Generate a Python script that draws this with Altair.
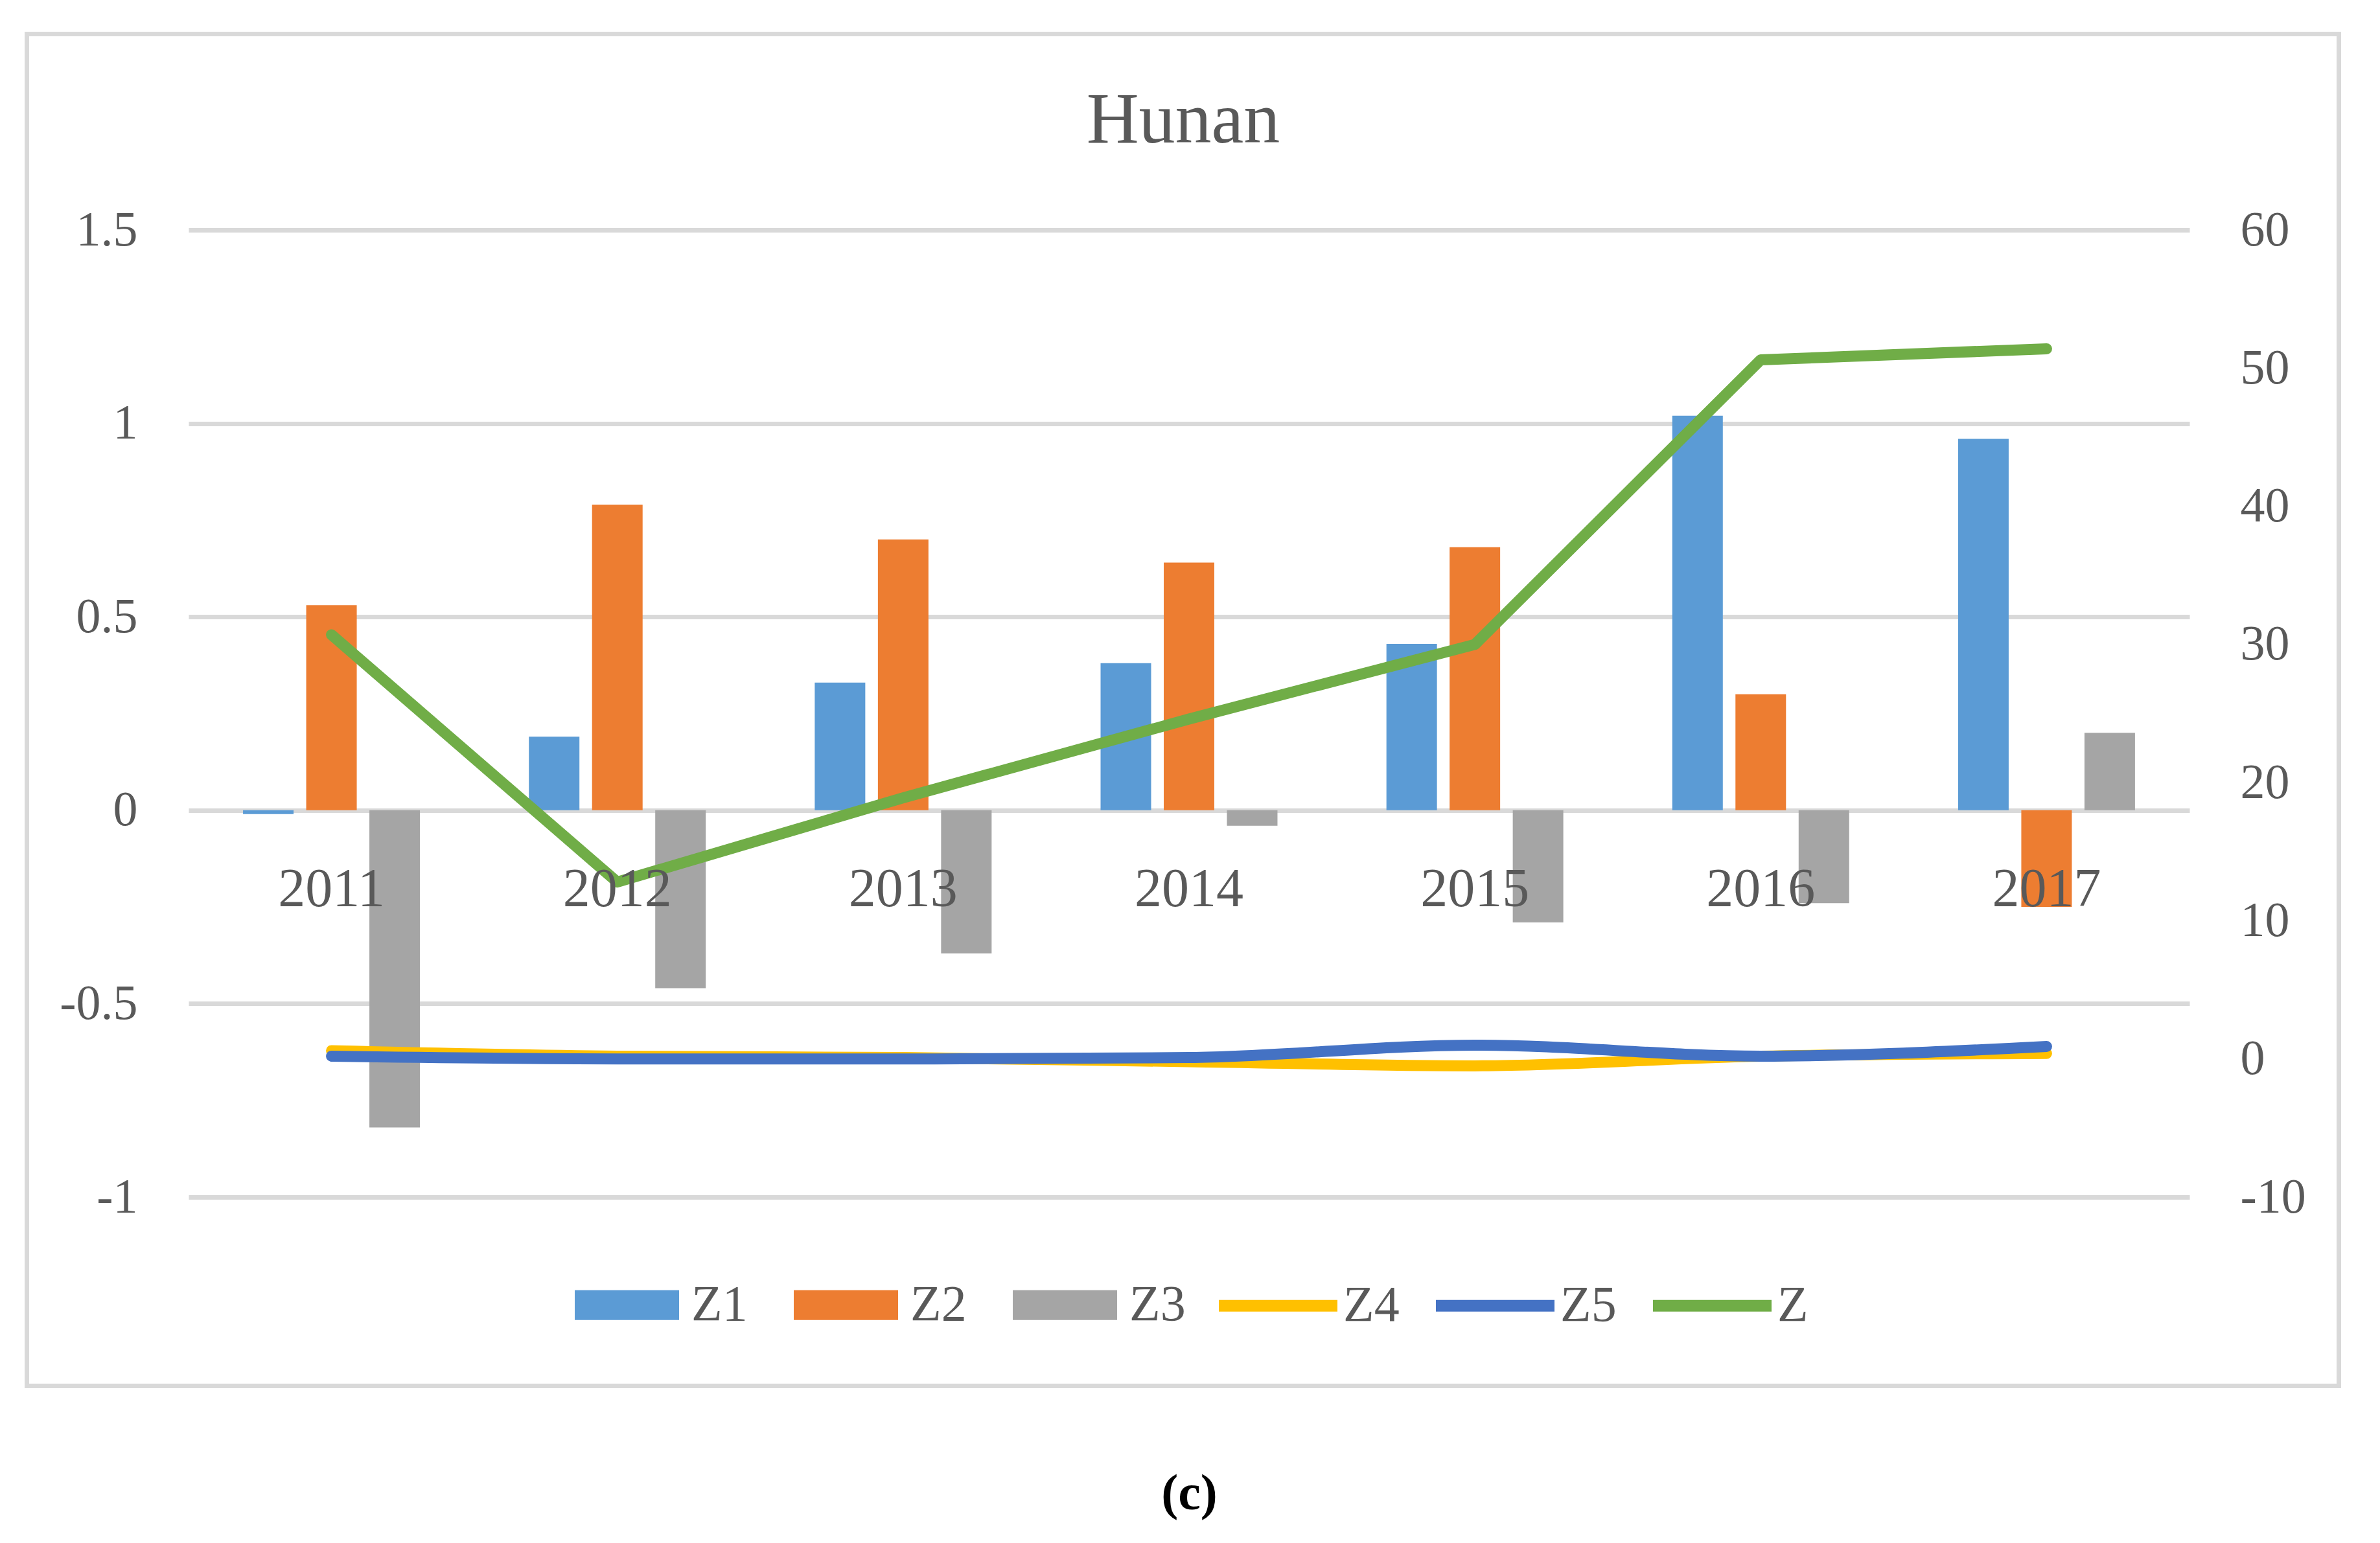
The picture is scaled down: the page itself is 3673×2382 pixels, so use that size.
import altair as alt
import pandas as pd

# ---- data ----
years = ["2011", "2012", "2013", "2014", "2015", "2016", "2017"]
z1 = [-0.01, 0.19, 0.33, 0.38, 0.43, 1.02, 0.96]
z2 = [0.53, 0.79, 0.70, 0.64, 0.68, 0.30, -0.25]
z3 = [-0.82, -0.46, -0.37, -0.04, -0.29, -0.24, 0.20]
z4 = [0.6, 0.2, 0.1, -0.2, -0.5, 0.2, 0.4]
z5 = [0.2, 0.0, 0.0, 0.1, 1.0, 0.2, 0.9]
z = [30.7, 12.8, 18.9, 24.6, 30.0, 50.6, 51.4]

bar_names = ["Z1", "Z2", "Z3"]
bar_colors = ["#5B9BD5", "#ED7D31", "#A5A5A5"]
line_names = ["Z4", "Z5", "Z"]
line_colors = ["#FFC000", "#4472C4", "#70AD47"]
left_ticks = [-1, -0.5, 0, 0.5, 1, 1.5]
right_ticks = [-10, 0, 10, 20, 30, 40, 50, 60]
chart_title = ["Hunan"]
caption = "(c)"

FONT = "Liberation Serif"
TXT = "#595959"
GRID = "#D9D9D9"

bar_rows = []
for name, vals in zip(bar_names, [z1, z2, z3]):
    for yr, v in zip(years, vals):
        bar_rows.append({"year": yr, "series": name, "value": v})
bar_df = pd.DataFrame(bar_rows)

smooth_rows = []
for name, vals in zip(["Z4", "Z5"], [z4, z5]):
    for yr, v in zip(years, vals):
        smooth_rows.append({"year": yr, "series": name, "value": v})
smooth_df = pd.DataFrame(smooth_rows)

z_df = pd.DataFrame({"year": years, "series": ["Z"] * len(years), "value": z})

x_enc = alt.X(
    "year:N",
    sort=years,
    scale=alt.Scale(paddingInner=0.337, paddingOuter=0.1685),
    axis=alt.Axis(
        title=caption, orient="bottom", offset=-597, domain=False, ticks=False,
        grid=False, labelAngle=0, labelFont=FONT, labelFontSize=84,
        labelColor=TXT, labelPadding=81, zindex=1,
        titleFont=FONT, titleFontSize=78, titleFontWeight="bold",
        titleColor="black", titlePadding=914, titleBaseline="alphabetic",
    ),
)

bars = alt.Chart(bar_df).mark_bar().encode(
    x=x_enc,
    xOffset=alt.XOffset("series:N", sort=bar_names,
                        scale=alt.Scale(domain=bar_names, paddingInner=0.2, paddingOuter=0.1)),
    y=alt.Y("value:Q",
            scale=alt.Scale(domain=[-1, 1.5], nice=False, zero=False),
            axis=alt.Axis(values=left_ticks, orient="left", title=None, domain=False,
                          ticks=False, grid=True, gridColor=GRID, gridWidth=7,
                          labelFont=FONT, labelFontSize=76, labelColor=TXT,
                          labelPadding=79, labelExpr="datum.value + ''")),
    color=alt.Color("series:N",
                    scale=alt.Scale(domain=bar_names, range=bar_colors),
                    legend=alt.Legend(title=None, orient="none", legendX=596, legendY=1579,
                                      direction="horizontal", columns=3,
                                      symbolType="M-1,-0.2857H1V0.2857H-1Z",
                                      symbolSize=161 * 161, symbolStrokeWidth=0,
                                      labelOffset=19, columnPadding=71,
                                      labelFont=FONT, labelFontSize=78, labelColor=TXT)),
)

line_legend = alt.Legend(title=None, orient="none", legendX=1581, legendY=1560,
                         direction="horizontal", columns=3, symbolType="stroke",
                         symbolSize=183 * 183, symbolStrokeWidth=18,
                         labelOffset=0, columnPadding=20,
                         labelFont=FONT, labelFontSize=78, labelColor=TXT)
line_color = alt.Color("series:N", scale=alt.Scale(domain=line_names, range=line_colors),
                       legend=line_legend)
right_y = alt.Y("value:Q",
                scale=alt.Scale(domain=[-10, 60], nice=False, zero=False),
                axis=alt.Axis(values=right_ticks, orient="right", title=None, domain=False,
                              ticks=False, grid=False, labelFont=FONT, labelFontSize=76,
                              labelColor=TXT, labelPadding=78,
                              labelExpr="datum.value + ''"))

smooth = alt.Chart(smooth_df).mark_line(
    interpolate="monotone", strokeWidth=17, strokeCap="round", strokeJoin="round"
).encode(x=x_enc, y=right_y, color=line_color, detail="series:N")

straight = alt.Chart(z_df).mark_line(
    strokeWidth=17, strokeCap="round", strokeJoin="round"
).encode(x=x_enc, y=right_y, color=line_color)

lines = alt.layer(smooth, straight)

frame = alt.Chart(pd.DataFrame({"k": [0]})).mark_rect(
    fillOpacity=0, stroke=GRID, strokeWidth=7
).encode(x=alt.value(-249.5), x2=alt.value(3318.5), y=alt.value(-302.5), y2=alt.value(1784.5))

title = alt.Chart(pd.DataFrame({"t": chart_title})).mark_text(
    font=FONT, fontSize=112, color=TXT, align="center", baseline="alphabetic"
).encode(text="t:N", x=alt.value(1535), y=alt.value(-135))

chart = alt.layer(frame, title, bars, lines).resolve_scale(
    y="independent", color="independent"
).properties(
    width=3088, height=1493,
    autosize=alt.AutoSizeParams(type="none"),
    padding={"left": 283, "top": 347, "right": 280, "bottom": 520},
    background="white",
).configure_view(stroke=None)

chart.save("out.html", embed_options={"renderer": "svg", "actions": False})
